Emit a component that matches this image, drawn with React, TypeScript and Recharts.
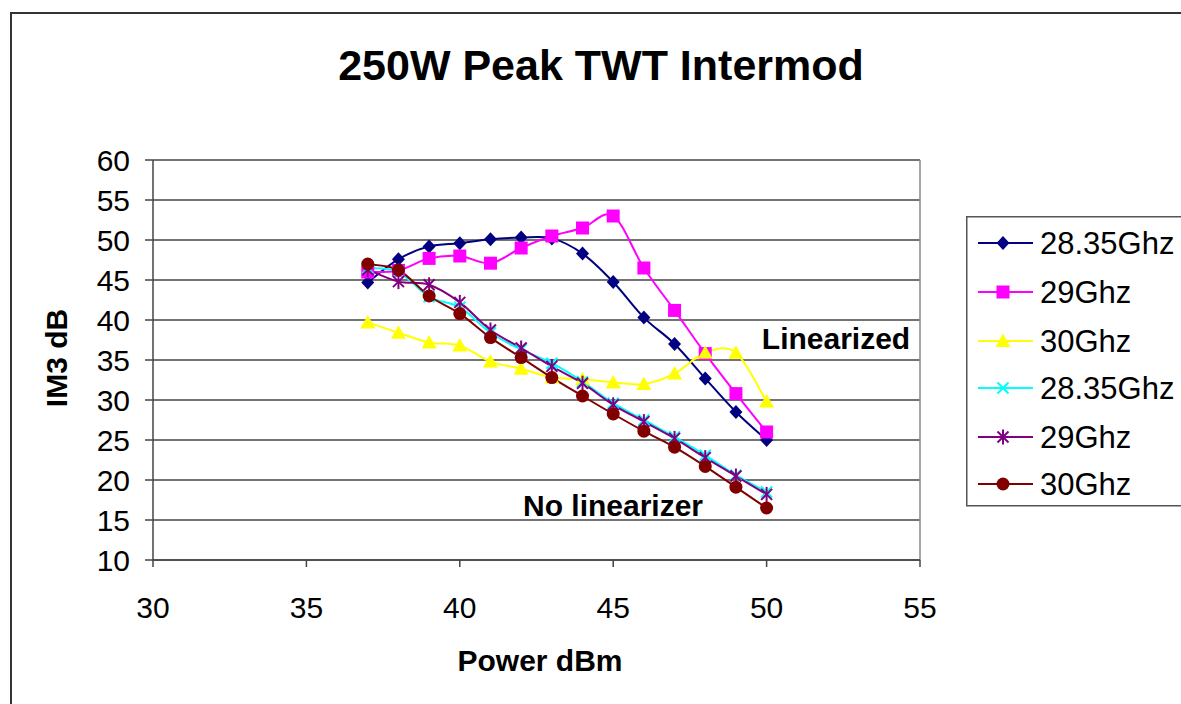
import React from 'react';
import { LineChart, Line, XAxis, YAxis, CartesianGrid, Legend, ReferenceLine } from 'recharts';

const powerDbm = [37, 38, 39, 40, 41, 42, 43, 44, 45, 46, 47, 48, 49, 50];
const lin2835 = [44.7, 47.6, 49.2, 49.6, 50.1, 50.3, 50.2, 48.3, 44.75, 40.3, 37.0, 32.7, 28.5, 25.0];
const lin29 = [46.0, 46.2, 47.7, 48.0, 47.1, 49.0, 50.5, 51.5, 53.0, 46.5, 41.2, 35.8, 30.8, 26.0];
const lin30 = [39.7, 38.4, 37.2, 36.8, 34.8, 33.9, 32.8, 32.6, 32.2, 32.0, 33.3, 35.9, 35.9, 29.8];
const noLin2835 = [46.5, 46.0, 42.9, 41.6, 38.4, 36.3, 34.6, 32.3, 29.6, 27.5, 25.4, 23.1, 20.6, 18.5];
const noLin29 = [46.3, 44.8, 44.4, 42.2, 38.75, 36.5, 34.2, 32.1, 29.4, 27.3, 25.2, 22.8, 20.5, 18.2];
const noLin30 = [47.0, 46.25, 43.0, 40.8, 37.8, 35.3, 32.8, 30.5, 28.25, 26.1, 24.1, 21.7, 19.1, 16.5];

const xTicks = [30, 35, 40, 45, 50, 55];
const yTicks = [10, 15, 20, 25, 30, 35, 40, 45, 50, 55, 60];

const series = [
  { key: 's1', name: '28.35Ghz', color: '#000080', shape: 'diamond', values: lin2835 },
  { key: 's2', name: '29Ghz', color: '#FF00FF', shape: 'square', values: lin29 },
  { key: 's3', name: '30Ghz', color: '#FFFF00', shape: 'triangle', values: lin30 },
  { key: 's4', name: '28.35Ghz', color: '#00FFFF', shape: 'x', values: noLin2835 },
  { key: 's5', name: '29Ghz', color: '#800080', shape: 'star', values: noLin29 },
  { key: 's6', name: '30Ghz', color: '#800000', shape: 'circle', values: noLin30 },
];

const data = powerDbm.map((x, i) => {
  const row: any = { x };
  series.forEach((s) => { row[s.key] = s.values[i]; });
  return row;
});

const FONT = "Arial, 'Liberation Sans', sans-serif";

// Excel-like smoothing (Catmull-Rom through points)
const smoothCurve: any = (context: any) => {
  let pts: number[][] = [];
  return {
    areaStart() {},
    areaEnd() {},
    lineStart() { pts = []; },
    point(x: number, y: number) { pts.push([+x, +y]); },
    lineEnd() {
      if (!pts.length) return;
      context.moveTo(pts[0][0], pts[0][1]);
      for (let i = 0; i < pts.length - 1; i++) {
        const p0 = pts[i - 1] || pts[i];
        const p1 = pts[i];
        const p2 = pts[i + 1];
        const p3 = pts[i + 2] || p2;
        const t = 1 / 6;
        context.bezierCurveTo(
          p1[0] + (p2[0] - p0[0]) * t, p1[1] + (p2[1] - p0[1]) * t,
          p2[0] - (p3[0] - p1[0]) * t, p2[1] - (p3[1] - p1[1]) * t,
          p2[0], p2[1]
        );
      }
    },
  };
};

function Marker({ cx, cy, shape, color }: any) {
  switch (shape) {
    case 'diamond':
      return <polygon points={`${cx},${cy - 7} ${cx + 6.5},${cy} ${cx},${cy + 7} ${cx - 6.5},${cy}`} fill={color} />;
    case 'square':
      return <rect x={cx - 6.5} y={cy - 6.5} width={13} height={13} fill={color} />;
    case 'triangle':
      return <polygon points={`${cx},${cy - 7.5} ${cx + 7.5},${cy + 6} ${cx - 7.5},${cy + 6}`} fill={color} />;
    case 'x':
      return (
        <g stroke={color} strokeWidth={2}>
          <line x1={cx - 5.5} y1={cy - 5.5} x2={cx + 5.5} y2={cy + 5.5} />
          <line x1={cx - 5.5} y1={cy + 5.5} x2={cx + 5.5} y2={cy - 5.5} />
        </g>
      );
    case 'star':
      return (
        <g stroke={color} strokeWidth={2}>
          <line x1={cx - 5.5} y1={cy - 5.5} x2={cx + 5.5} y2={cy + 5.5} />
          <line x1={cx - 5.5} y1={cy + 5.5} x2={cx + 5.5} y2={cy - 5.5} />
          <line x1={cx} y1={cy - 7.5} x2={cx} y2={cy + 7.5} />
        </g>
      );
    default:
      return <circle cx={cx} cy={cy} r={6.5} fill={color} />;
  }
}

function LegendBox() {
  const rowY = [27, 76, 125, 172, 221, 268];
  return (
    <svg width={240} height={292} style={{ display: 'block', overflow: 'visible' }}>
      <rect x={0.75} y={0.75} width={236} height={289} fill="#fff" stroke="#555" strokeWidth={1.5} />
      {series.map((s, i) => (
        <g key={s.key}>
          <line x1={12} x2={67} y1={rowY[i]} y2={rowY[i]} stroke={s.color} strokeWidth={2} />
          <Marker cx={37} cy={rowY[i]} shape={s.shape} color={s.color} />
          <text x={74} y={rowY[i] + 11} fontSize={31} fontFamily={FONT} fill="#000">{s.name}</text>
        </g>
      ))}
    </svg>
  );
}

export default function App() {
  return (
    <div style={{ position: 'absolute', left: 0, top: 0, width: 1181, height: 704, overflow: 'hidden', background: '#fff' }}>
      <div style={{ position: 'absolute', left: 10, top: 12, width: 1300, height: 800, borderLeft: '2px solid #333', borderTop: '2px solid #333' }} />
      <div style={{ position: 'absolute', left: 0, top: 0 }}>
        <LineChart width={1181} height={704} data={data} margin={{ top: 160, right: 261, left: 0, bottom: 84 }}>
          <CartesianGrid horizontal={true} vertical={false} stroke="#444" strokeWidth={1.5} />
          <ReferenceLine x={55} stroke="#888" strokeWidth={1.5} />
          <XAxis
            dataKey="x"
            type="number"
            domain={[30, 55]}
            ticks={xTicks}
            interval={0}
            height={60}
            stroke="#444"
            strokeWidth={1.5}
            tickSize={7}
            tickMargin={30}
            tick={{ fill: '#000', fontSize: 30, fontFamily: FONT }}
          />
          <YAxis
            type="number"
            domain={[10, 60]}
            ticks={yTicks}
            interval={0}
            width={153}
            stroke="#444"
            strokeWidth={1.5}
            tickSize={8}
            tickMargin={15}
            tick={{ fill: '#000', fontSize: 30, fontFamily: FONT }}
          />
          <Legend
            layout="vertical"
            align="center"
            verticalAlign="middle"
            wrapperStyle={{ left: 966, top: 216, width: 240, height: 292 }}
            content={() => <LegendBox />}
          />
          {series.map((s) => (
            <Line
              key={s.key}
              dataKey={s.key}
              name={s.name}
              type={smoothCurve}
              stroke={s.color}
              strokeWidth={2}
              isAnimationActive={false}
              activeDot={false}
              dot={(p: any) => (
                <g key={`${s.key}-${p.index}`}>
                  <Marker cx={p.cx} cy={p.cy} shape={s.shape} color={s.color} />
                </g>
              )}
            />
          ))}
          <text x={601} y={80} textAnchor="middle" fontSize={43} fontWeight="bold" fontFamily={FONT} fill="#000">250W Peak TWT Intermod</text>
          <text x={540} y={671} textAnchor="middle" fontSize={30} fontWeight="bold" fontFamily={FONT} fill="#000">Power dBm</text>
          <text x={67} y={358} textAnchor="middle" fontSize={30} fontWeight="bold" fontFamily={FONT} fill="#000" transform="rotate(-90, 67, 358)">IM3 dB</text>
          <text x={836} y={349} textAnchor="middle" fontSize={30} fontWeight="bold" fontFamily={FONT} fill="#000">Linearized</text>
          <text x={613} y={516} textAnchor="middle" fontSize={30} fontWeight="bold" fontFamily={FONT} fill="#000">No linearizer</text>
        </LineChart>
      </div>
    </div>
  );
}
